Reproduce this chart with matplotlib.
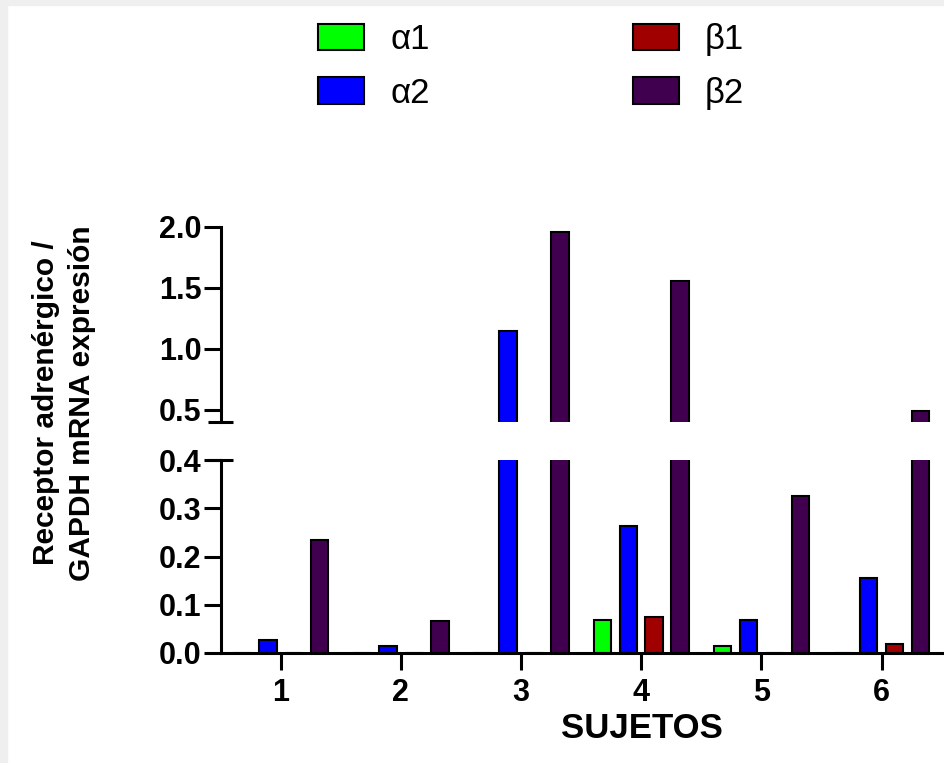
import matplotlib
matplotlib.use('Agg')
import matplotlib.pyplot as plt
import numpy as np
from matplotlib.patches import Rectangle

plt.rcParams['font.family'] = ['Liberation Sans', 'DejaVu Sans']

# data
subjects = [1, 2, 3, 4, 5, 6]
series = ['α1', 'α2', 'β1', 'β2']
alpha1 = [0.0, 0.0, 0.0, 0.068, 0.015, 0.0]
alpha2 = [0.026, 0.015, 1.145, 0.264, 0.068, 0.155]
beta1 = [0.0, 0.0, 0.0, 0.075, 0.001, 0.018]
beta2 = [0.234, 0.067, 1.96, 1.557, 0.325, 0.49]
colors = ['#00ff00', '#0000ff', '#a00000', '#40004f']

values = [alpha1, alpha2, beta1, beta2]

W, H = 944, 763
fig = plt.figure(figsize=(W / 100, H / 100), dpi=100)

# light grey frame at the left and top edge
fig.patches.append(Rectangle((0, 0), 7 / W, 1, transform=fig.transFigure, color='#efefef', zorder=0))
fig.patches.append(Rectangle((0, 1 - 5 / H), 1, 5 / H, transform=fig.transFigure, color='#efefef', zorder=0))

left = 220.7 / W
width = 1 - left
ax_low = fig.add_axes([left, 1 - 653 / H, width, (653 - 460) / H])
ax_up = fig.add_axes([left, 1 - 422 / H, width, (422 - 227) / H])

x = np.array(subjects, dtype=float)
step = 0.216
offsets = [-1.5 * step, -0.5 * step, 0.5 * step, 1.5 * step]
bw = 0.145
lw = 2.2

handles = []
for ax in (ax_low, ax_up):
    for vals, off, c, name in zip(values, offsets, colors, series):
        b = ax.bar(x + off, vals, width=bw, color=c, edgecolor='black', linewidth=1.5, label=name)
        if ax is ax_low:
            handles.append(b)
    ax.set_xlim(0.5, 6.52)
    ax.spines['top'].set_visible(False)
    ax.spines['right'].set_visible(False)
    for s in ax.spines.values():
        s.set_linewidth(lw)
    ax.tick_params(axis='y', length=12, width=lw, labelsize=22, pad=2)

ax_low.set_ylim(0, 0.4)
ax_low.set_yticks([0.0, 0.1, 0.2, 0.3, 0.4])
ax_low.set_yticklabels(['0.0', '0.1', '0.2', '0.3', '0.4'], fontweight='bold')
ax_low.set_xticks(subjects)
ax_low.set_xticklabels([str(s) for s in subjects], fontweight='bold')
ax_low.tick_params(axis='x', length=12, width=lw, labelsize=22, pad=6)

ax_up.set_ylim(0.4, 2.0)
ax_up.set_yticks([0.5, 1.0, 1.5, 2.0])
ax_up.set_yticklabels(['0.5', '1.0', '1.5', '2.0'], fontweight='bold')
ax_up.spines['bottom'].set_visible(False)
ax_up.set_xticks([])

# axis break marks
ww = (W - 220.7)
for ax, yy in ((ax_low, 1.0), (ax_up, 0.0)):
    ax.plot([-12.7 / ww, 12.3 / ww], [yy, yy], transform=ax.transAxes, color='black',
            lw=lw, clip_on=False, solid_capstyle='butt')

fig.text(642 / W, 1 - 729 / H, 'SUJETOS', ha='center', va='center', fontsize=25, fontweight='bold')
fig.text(64 / W, 1 - 403 / H, 'Receptor adrenérgico /\nGAPDH mRNA expresión', rotation=90,
         ha='center', va='center', multialignment='center', fontsize=21.5, fontweight='bold',
         linespacing=1.4)

fig.legend(handles=handles, labels=series, ncol=2, loc='upper left',
           bbox_to_anchor=(318 / W, 1 - 23 / H), frameon=False, borderpad=0, borderaxespad=0,
           fontsize=25, handlelength=1.33, handleheight=0.81, handletextpad=0.75,
           columnspacing=5.85, labelspacing=0.6)

fig.savefig('out.png', dpi=100)
